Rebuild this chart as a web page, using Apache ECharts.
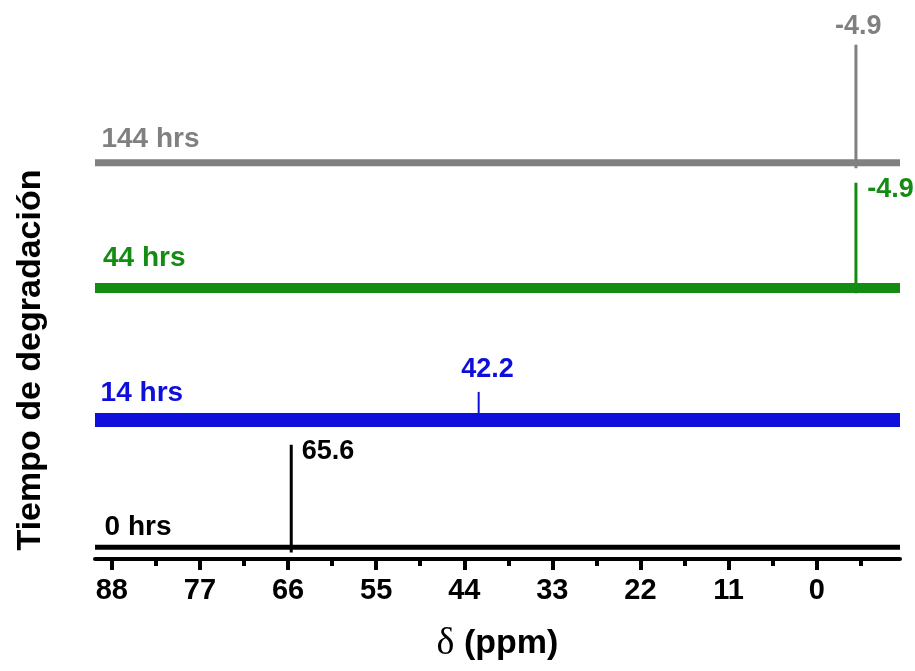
<!DOCTYPE html>
<html>
<head>
<meta charset="utf-8">
<script src="https://cdn.jsdelivr.net/npm/echarts@6/dist/echarts.min.js"></script>
<style>
  html, body { margin: 0; padding: 0; background: #fff; }
  #chart { width: 915px; height: 671px; }
</style>
</head>
<body>
<div id="chart"></div>
<script>
// chemical shift window (ppm), left edge -> right edge
const ppmLeft = 90.1;
const ppmRight = -10.4;
const majorTicks = [88, 77, 66, 55, 44, 33, 22, 11, 0];
const minorTicks = [82.5, 71.5, 60.5, 49.5, 38.5, 27.5, 16.5, 5.5, -5.5];

// one entry per spectrum, bottom to top
const spectraNames = ['0 hrs', '14 hrs', '44 hrs', '144 hrs'];
const spectraColors = ['#000000', '#0f0fdc', '#148c14', '#808080'];
const baselines = [2.2, 25.8, 50.3, 73.5];      // stacked offsets (a.u.)
const peakPpm = [65.6, 42.2, -4.9, -4.9];
const peakTops = [21.2, 31.0, 69.8, 95.4];
const peakTexts = ['65.6', '42.2', '-4.9', '-4.9'];

// where each text sits, in [ppm, intensity]
const nameLabelPos = [[88.9, 5.9], [89.4, 30.8], [89.1, 55.8], [89.3, 77.9]];
const peakLabelPos = [[64.3, 19.9], [41.1, 35.1], [-6.3, 68.6], [-5.2, 98.7]];
const peakLabelAlign = ['left', 'center', 'left', 'center'];

// rough widths of the noise bands and of the peak strokes
const bandWidths = [5, 14, 10, 7];
const peakWidths = [3, 2, 3, 3];

const chart = echarts.init(document.getElementById('chart'));
const font = 'Liberation Sans, Arial, sans-serif';

const series = [];
spectraNames.forEach((name, i) => {
    series.push({
        name: name,
        type: 'line',
        xAxisIndex: 0,
        symbol: 'none',
        silent: true,
        lineStyle: { color: spectraColors[i], width: bandWidths[i], cap: 'butt' },
        data: [[ppmLeft, baselines[i]], [ppmRight, baselines[i]]]
    });
    series.push({
        name: name + ' peak',
        type: 'line',
        xAxisIndex: 0,
        symbol: 'none',
        silent: true,
        lineStyle: { color: spectraColors[i], width: peakWidths[i], cap: 'butt' },
        data: [[peakPpm[i], baselines[i] - 1], [peakPpm[i], peakTops[i]]]
    });
});

const labelData = [];
spectraNames.forEach((name, i) => {
    labelData.push({
        value: nameLabelPos[i],
        name: name,
        label: { color: spectraColors[i], align: 'left', fontSize: 28 }
    });
    labelData.push({
        value: peakLabelPos[i],
        name: peakTexts[i],
        label: { color: spectraColors[i], align: peakLabelAlign[i], fontSize: 27 }
    });
});
series.push({
    type: 'scatter',
    xAxisIndex: 0,
    symbolSize: 0,
    silent: true,
    itemStyle: { opacity: 1 },
    label: {
        show: true,
        position: 'inside',
        formatter: '{b}',
        fontFamily: font,
        fontWeight: 'bold',
        opacity: 1,
        verticalAlign: 'middle'
    },
    data: labelData
});

const option = {
    animation: false,
    grid: { left: 95, right: 15, top: 20, bottom: 112 },
    xAxis: [{
        type: 'value',
        inverse: true,
        min: ppmRight,
        max: ppmLeft,
        position: 'bottom',
        name: '{d|δ}{b| (ppm)}',
        nameLocation: 'middle',
        nameGap: 66,
        nameTextStyle: {
            rich: {
                d: { fontFamily: 'Liberation Serif, DejaVu Serif, serif', fontSize: 38, color: '#000' },
                b: { fontFamily: font, fontWeight: 'bold', fontSize: 34, color: '#000' }
            }
        },
        axisLine: { show: true, lineStyle: { color: '#000', width: 4 } },
        axisTick: { show: true, customValues: majorTicks, length: 11, lineStyle: { color: '#000', width: 4 } },
        axisLabel: {
            customValues: majorTicks,
            margin: 17,
            color: '#000',
            fontFamily: font,
            fontWeight: 'bold',
            fontSize: 29
        },
        splitLine: { show: false }
    }, {
        type: 'value',
        inverse: true,
        min: ppmRight,
        max: ppmLeft,
        position: 'bottom',
        axisLine: { show: false },
        axisTick: { show: true, customValues: minorTicks, length: 7, lineStyle: { color: '#000', width: 4 } },
        axisLabel: { show: false },
        splitLine: { show: false }
    }],
    yAxis: {
        type: 'value',
        min: 0,
        max: 100,
        show: false
    },
    graphic: [{
        type: 'text',
        x: 31,
        y: 360,
        rotation: Math.PI / 2,
        style: {
            text: 'Tiempo de degradación',
            fontFamily: font,
            fontWeight: 'bold',
            fontSize: 34,
            fill: '#000',
            align: 'center',
            verticalAlign: 'middle'
        }
    }],
    series: series
};

chart.setOption(option);
</script>
</body>
</html>
